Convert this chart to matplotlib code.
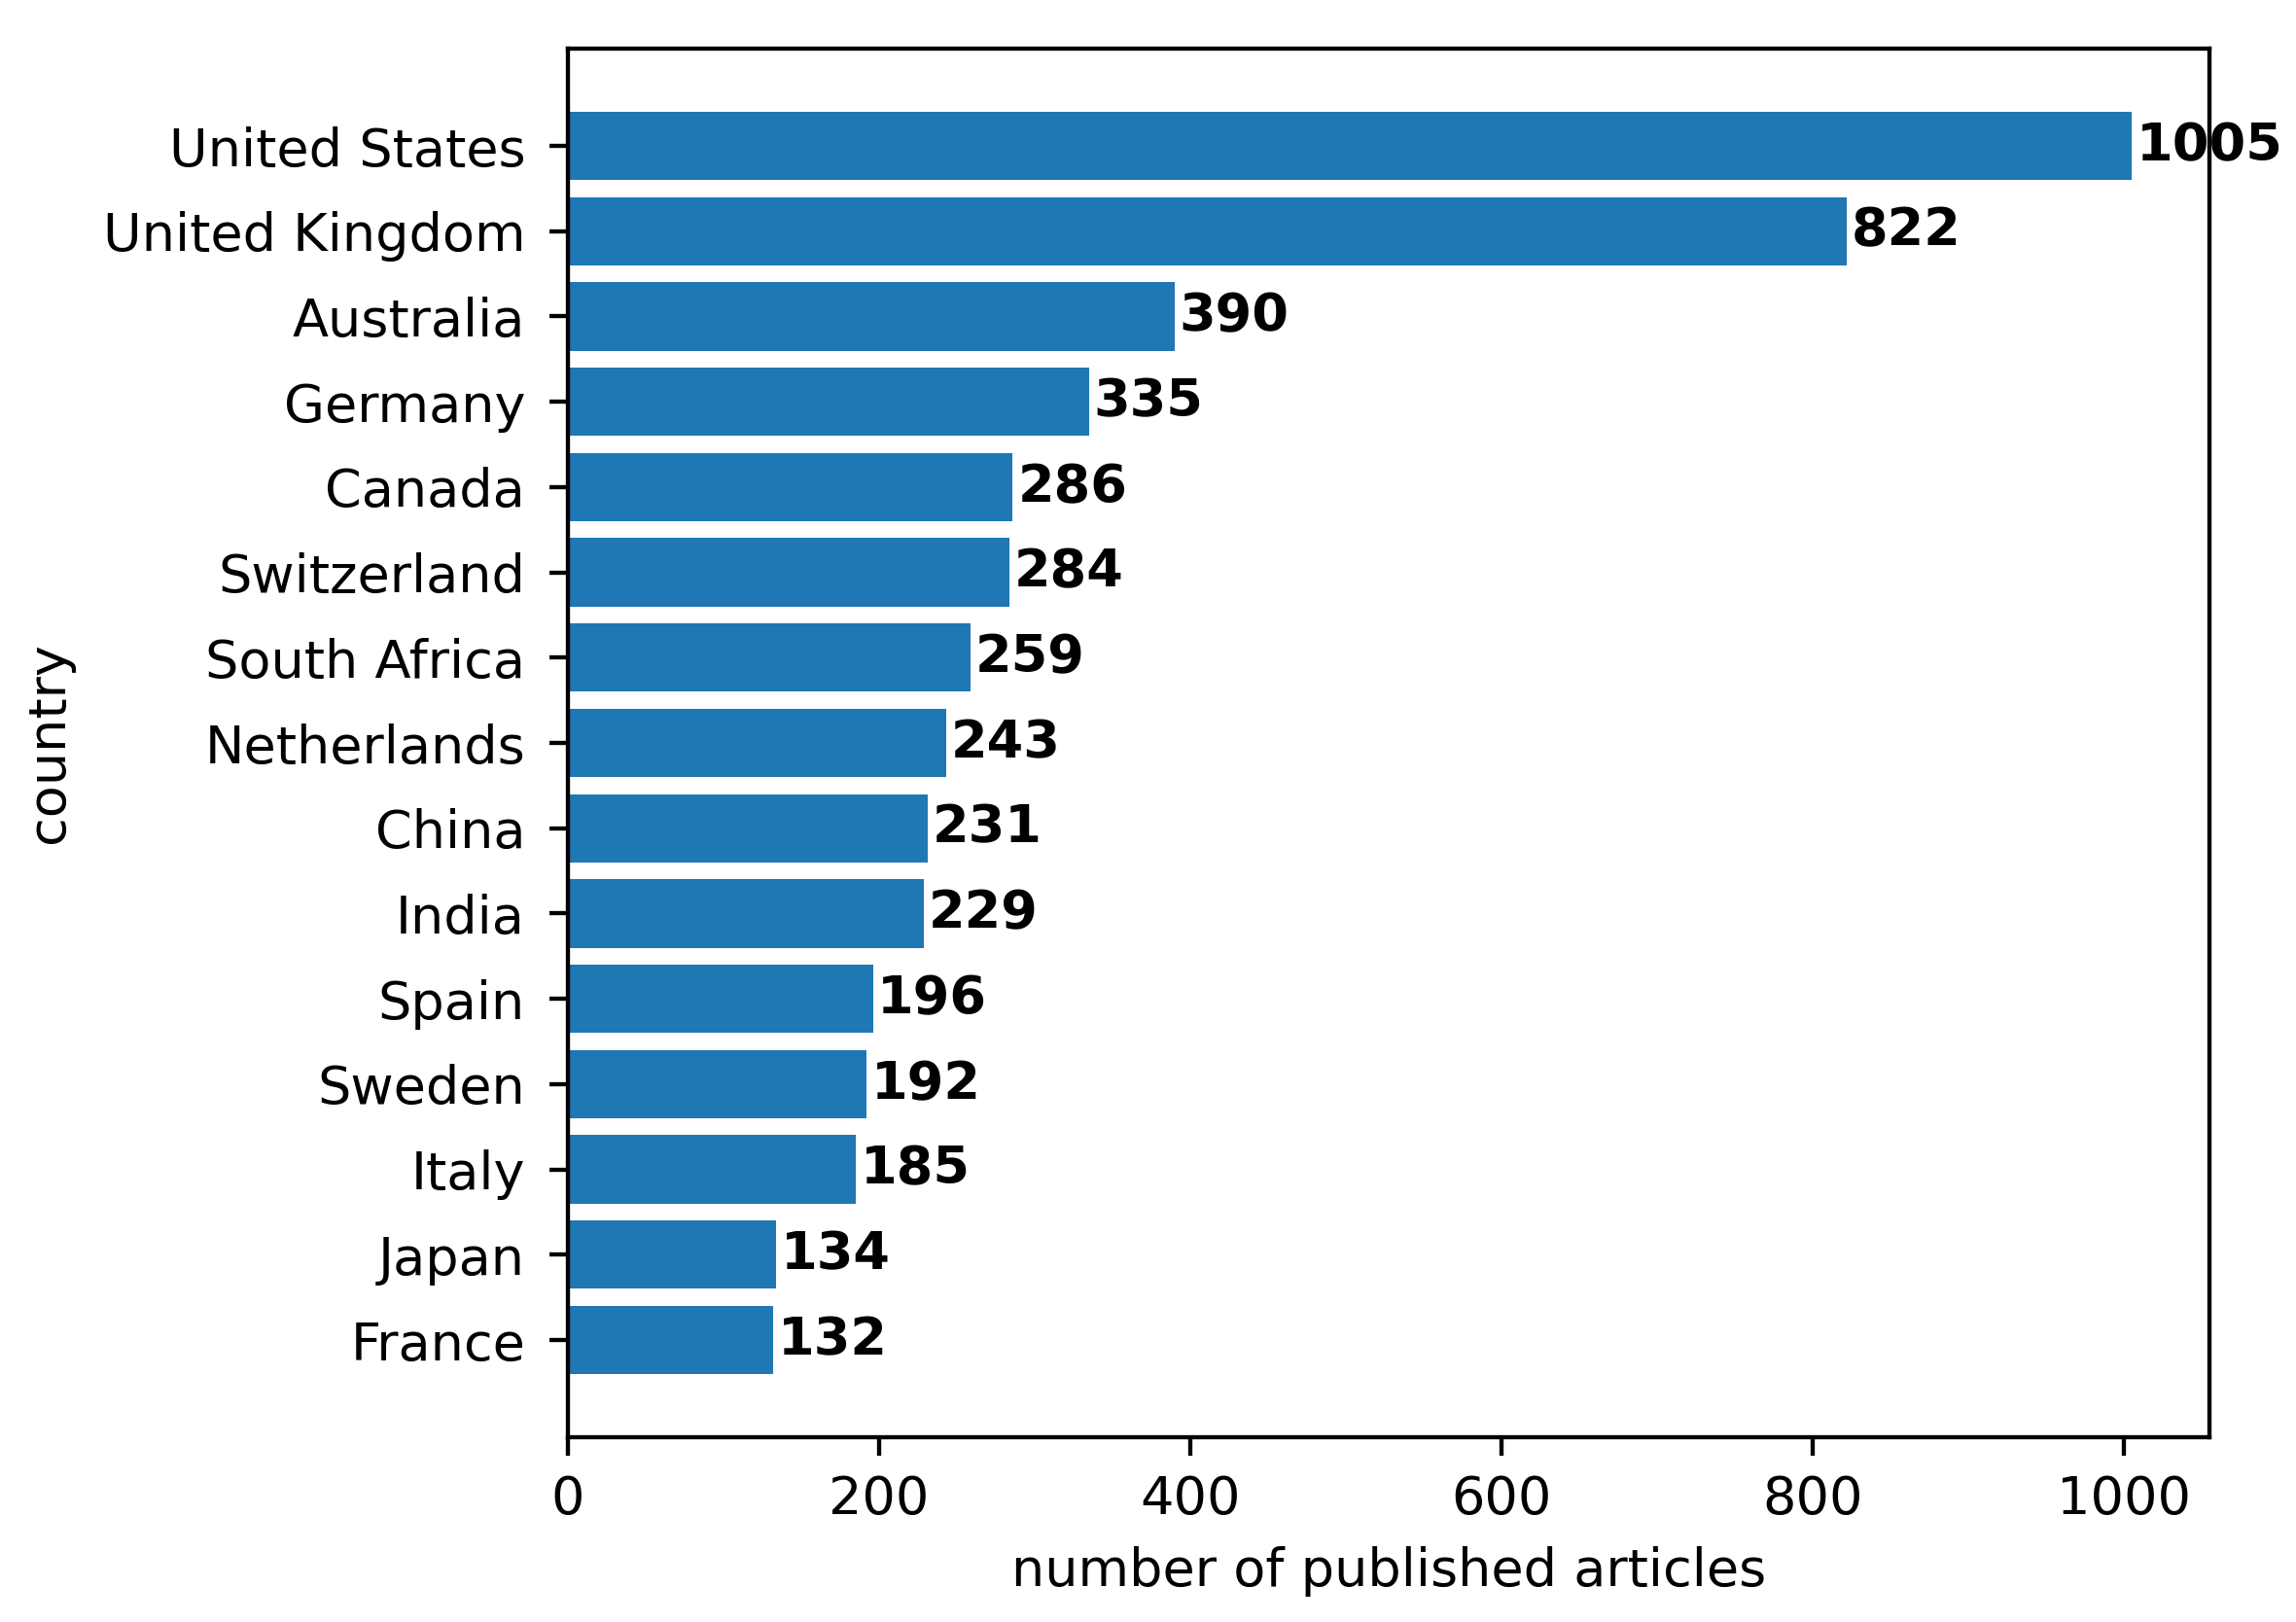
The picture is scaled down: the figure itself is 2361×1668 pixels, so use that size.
import matplotlib
matplotlib.use("Agg")
import matplotlib.pyplot as plt

countries = ["United States", "United Kingdom", "Australia", "Germany", "Canada",
             "Switzerland", "South Africa", "Netherlands", "China", "India",
             "Spain", "Sweden", "Italy", "Japan", "France"]
counts = [1005, 822, 390, 335, 286, 284, 259, 243, 231, 229, 196, 192, 185, 134, 132]
xticks = [0, 200, 400, 600, 800, 1000]

DPI = 390
fig = plt.figure(figsize=(2361 / DPI, 1668 / DPI), dpi=DPI)
ax = fig.add_axes([584 / 2361, 1 - 1478 / 1668, (2272 - 584) / 2361, (1478 - 50) / 1668])

bars = ax.barh(countries[::-1], counts[::-1], color="#1f77b4")
for bar, v in zip(bars, counts[::-1]):
    ax.text(bar.get_width() + 3, bar.get_y() + bar.get_height() / 2, str(v),
            va="center", ha="left", fontweight="bold", fontsize=10)

ax.set_xticks(xticks)
ax.tick_params(axis="y", pad=4.6)
ax.set_xlabel("number of published articles")
ax.set_ylabel("country", labelpad=5.5)

fig.savefig("out.png", dpi=DPI)
